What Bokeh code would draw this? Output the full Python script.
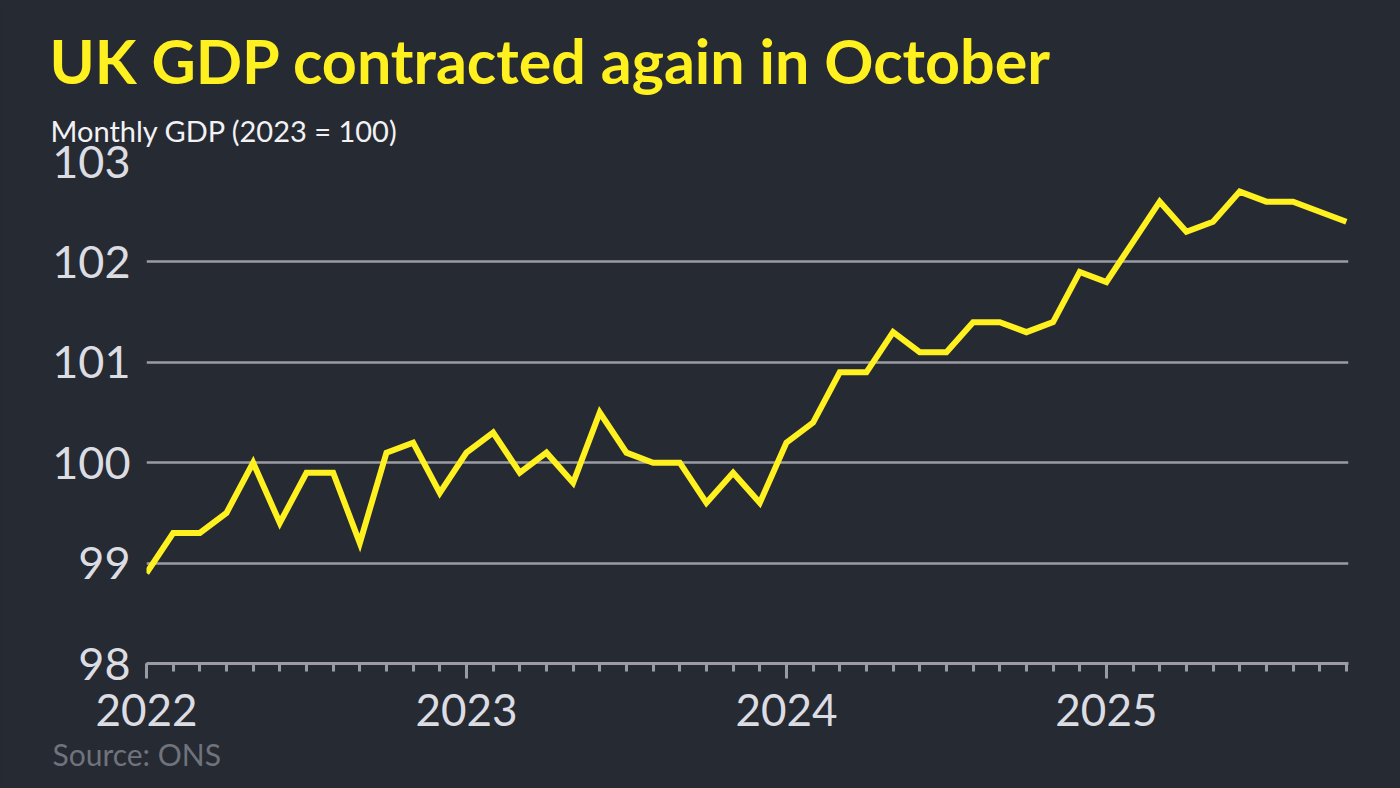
from bokeh.plotting import figure
from bokeh.models import Range1d, FixedTicker, Title, ColumnDataSource
from bokeh.embed import file_html
from bokeh.resources import INLINE

# Monthly GDP index (2023 = 100), Jan 2022 .. Oct 2025
months = [f"{y}-{m:02d}" for y in (2022, 2023, 2024, 2025) for m in range(1, 13)][:46]
gdp = [
    98.9, 99.3, 99.3, 99.5, 100.0, 99.4, 99.9, 99.9, 99.2, 100.1, 100.2, 99.7,
    100.1, 100.3, 99.9, 100.1, 99.8, 100.5, 100.1, 100.0, 100.0, 99.6, 99.9, 99.6,
    100.2, 100.4, 100.9, 100.9, 101.3, 101.1, 101.1, 101.4, 101.4, 101.3, 101.4, 101.9,
    101.8, 102.2, 102.6, 102.3, 102.4, 102.7, 102.6, 102.6, 102.5, 102.4,
]
year_labels = ["2022", "2023", "2024", "2025"]
y_ticks = [98, 99, 100, 101, 102, 103]

title_text = "UK GDP contracted again in October"
subtitle_text = "Monthly GDP (2023 = 100)"
source_text = "Source: ONS"

BG = "#262a33"
YELLOW = "#fff01f"
GRID = "#9a9ba3"
LABEL = "#dcdde3"
FONT = "Lato"

idx = list(range(len(months)))
src = ColumnDataSource(dict(x=idx, y=gdp, month=months))

p = figure(
    width=1400, height=788,
    output_backend="svg", toolbar_location=None,
    x_range=Range1d(0, 45.08), y_range=Range1d(98, 103),
    min_border_left=146, min_border_right=52,
    min_border_top=161, min_border_bottom=125,
    background_fill_color=BG, border_fill_color=BG,
    outline_line_color=None,
    styles={"background-color": BG},
)

p.line("x", "y", source=src, line_color=YELLOW, line_width=6, line_join="miter")

# x axis
year_pos = [months.index(f"{y}-01") for y in year_labels]
p.xaxis.ticker = FixedTicker(ticks=year_pos, minor_ticks=idx)
p.xaxis.major_label_overrides = {pos: lab for pos, lab in zip(year_pos, year_labels)}
p.xaxis.axis_line_color = GRID
p.xaxis.axis_line_width = 3
p.xaxis.major_tick_line_color = GRID
p.xaxis.major_tick_line_width = 3
p.xaxis.major_tick_out = 15
p.xaxis.major_tick_in = 0
p.xaxis.minor_tick_line_color = GRID
p.xaxis.minor_tick_line_width = 3
p.xaxis.minor_tick_out = 8
p.xaxis.minor_tick_in = 0
p.xaxis.major_label_text_font = FONT
p.xaxis.major_label_text_font_size = "44px"
p.xaxis.major_label_text_color = LABEL
p.xaxis.major_label_standoff = 15
p.xgrid.grid_line_color = None

# y axis
p.yaxis.ticker = FixedTicker(ticks=y_ticks)
p.yaxis.axis_line_color = None
p.yaxis.major_tick_line_color = None
p.yaxis.minor_tick_line_color = None
p.yaxis.major_tick_out = 0
p.yaxis.major_tick_in = 0
p.yaxis.major_label_text_font = FONT
p.yaxis.major_label_text_font_size = "45px"
p.yaxis.major_label_text_color = LABEL
p.yaxis.major_label_standoff = 16
p.ygrid.grid_line_color = GRID
p.ygrid.grid_line_width = 2.5

# texts: subtitle nearest the frame, title above it; source below the x axis
p.add_layout(Title(text=subtitle_text, align="left", offset=-96, standoff=27,
                   text_font=FONT, text_font_size="29px", text_font_style="normal",
                   text_color="#f2f2f4"), "above")
p.add_layout(Title(text=title_text, align="left", offset=-97, standoff=2,
                   text_font=FONT, text_font_size="61px", text_font_style="bold",
                   text_color=YELLOW), "above")
p.add_layout(Title(text=source_text, align="left", offset=-94, standoff=11,
                   text_font=FONT, text_font_size="30px", text_font_style="normal",
                   text_color="#70737b"), "below")

open("out.html", "w").write(file_html(p, INLINE))
